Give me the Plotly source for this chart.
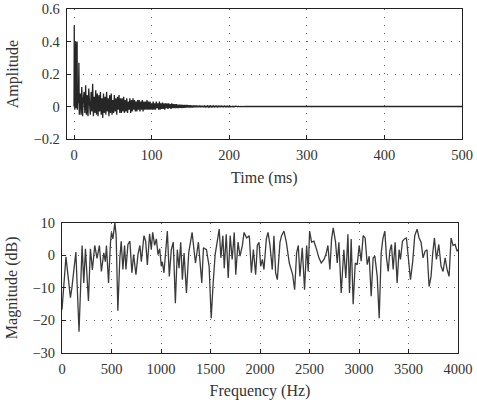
import numpy as np
import plotly.graph_objects as go
from plotly.subplots import make_subplots

# --- Top: impulse response ---
early_t = [0, 0.3, 0.6, 1.0, 1.3, 1.6, 2.2, 2.8, 3.4, 4.0, 4.3, 5.0, 5.6, 6.3, 6.8, 7.3]
early_a = [0.0, 0.5, 0.1, -0.02, 0.4, -0.01, 0.4, -0.01, 0.4, 0.4, -0.02, 0.06, 0.02, 0.27, -0.05, 0.04]

tail_start_ms = 8
tail_amp = [
    0.08, -0.05, 0.12, -0.06, 0.05, 0.09, -0.04, 0.13, -0.05, 0.07, -0.06, 0.11, 0.02, -0.05, 0.09, -0.03,
    0.14, -0.06, 0.06, -0.04, 0.10, -0.05, 0.08,
    -0.06, 0.07, -0.03, 0.09, -0.05, 0.05, -0.07, 0.08, -0.04, 0.06, -0.05, 0.09, -0.03, 0.05, -0.06, 0.07,
    -0.04, 0.08, -0.05, 0.04, -0.04, 0.07, -0.03, 0.05, -0.05, 0.06, -0.02, 0.07, -0.04, 0.05,
    -0.04, 0.05, -0.03, 0.06, -0.04, 0.04, -0.03, 0.05, -0.04, 0.03, -0.02, 0.05, -0.04, 0.04, -0.03, 0.05,
    -0.02, 0.04, -0.03, 0.03, -0.03, 0.04, -0.02, 0.04, -0.03, 0.03, -0.02, 0.04, -0.03, 0.03, -0.02, 0.03,
    -0.02, 0.04, -0.02, 0.03, -0.02, 0.03, -0.02, 0.02,
    -0.02, 0.03, -0.02, 0.02, -0.02, 0.03, -0.01, 0.02, -0.02, 0.03, -0.02, 0.02, -0.015, 0.025, -0.015, 0.02,
    -0.02, 0.02, -0.01, 0.02, -0.015, 0.02, -0.01, 0.015, -0.015, 0.02, -0.01, 0.015, -0.01, 0.015, -0.01, 0.015,
    -0.01, 0.012, -0.01, 0.012, -0.008, 0.012, -0.01, 0.01, -0.008, 0.01, -0.008, 0.01, -0.007, 0.01, -0.007, 0.008,
    -0.007, 0.008,
    -0.006, 0.007, -0.006, 0.006, -0.005, 0.007, -0.005, 0.006, -0.005, 0.005, -0.004, 0.006, -0.004, 0.005, -0.004, 0.005,
    -0.004, 0.004, -0.003, 0.005, -0.004, 0.004, -0.003, 0.004, -0.003, 0.004, -0.003, 0.003, -0.003, 0.004, -0.003, 0.003,
    -0.002, 0.003, -0.003, 0.003, -0.002, 0.003, -0.002, 0.003, -0.002, 0.002, -0.002, 0.003, -0.002, 0.002, -0.002, 0.002,
    -0.002, 0.002,
    -0.002, 0.002, -0.001, 0.002, -0.002, 0.002, -0.001, 0.002, -0.001, 0.001, -0.001, 0.002, -0.001, 0.001, -0.001, 0.001,
    -0.001, 0.001, -0.001, 0.001, 0.0,
]
end_t = [500]
end_a = [0.0]

# --- Bottom: magnitude response ---
freq_hz = [0, 40, 85, 100, 140, 172, 203, 220, 237, 267, 287, 307, 331, 354, 378, 398, 422, 438, 449, 470,
           490, 500, 514, 534, 547, 564, 584, 598, 615, 632, 646, 666, 686, 706, 723, 747, 767, 787, 801,
           828, 845, 862, 885, 902, 916, 936, 953, 970, 987, 1003, 1013, 1030, 1064, 1084, 1104, 1124,
           1145, 1165, 1182, 1199, 1216, 1233, 1257, 1280, 1314, 1348, 1378, 1412, 1429, 1459, 1486, 1507,
           1527, 1547, 1588, 1605, 1625, 1639, 1659, 1679, 1699, 1719, 1740, 1755, 1778, 1798, 1822, 1839,
           1865, 1892, 1913, 1933, 1956, 1973, 1990, 2007, 2024, 2040, 2064, 2081, 2101, 2124, 2141, 2158,
           2175, 2202, 2218, 2242, 2266, 2296, 2330, 2350, 2370, 2387, 2403, 2427, 2450, 2471, 2487, 2501,
           2521, 2545, 2572, 2595, 2619, 2646, 2666, 2686, 2706, 2723, 2740, 2763, 2780, 2797, 2820, 2847,
           2867, 2888, 2904, 2921, 2941, 2962, 2982, 3002, 3022, 3042, 3062, 3083, 3103, 3123, 3143, 3160,
           3184, 3204, 3224, 3241, 3261, 3278, 3295, 3311, 3328, 3345, 3365, 3385, 3405, 3419, 3439, 3459,
           3479, 3496, 3520, 3543, 3563, 3587, 3607, 3627, 3647, 3667, 3687, 3708, 3728, 3745, 3762, 3782,
           3806, 3829, 3849, 3870, 3890, 3910, 3930, 3950, 3971, 3991, 4000]
mag_db = [-16.7, -0.5, -13, -10, 1, -23.5, 3, -8.5, 2, -14, 2, -4.5, 3, -1, 3, -5, 0.7, -2, 3, -8.5,
          4, 7, 5, 10, 6, -17, -1, 4.3, -4.4, 3, -4.4, 3.3, 4.3, -5.4, 0.2, -6, 0.2, 3, -2,
          6, 4.3, -3, 6.6, 1.7, 7, 3, 5, 0.2, 2, -3.4, -2, -5.4, 7.4, -6.5, 1.7, 4,
          -14.7, 1.7, -4, 4, -7.5, 0.7, -11.6, 0.7, 7, -2.4, 4, -8.5, 2.3, 1.7, -3.4, -19.3,
          -8.5, 0.2, 8, -0.8, 6, -4, 6.4, -7, 6, -1.3, 7, -6, 4, -0.3, 3, 7, 5.3,
          6, -5.4, 1.7, -6, 3, 4, -3.4, -1.3, -4.4, 5, 7, 3, -4.4, 6, -5.4, -7.5,
          4, 6, 7.4, 4, -2.4, -6, -10.6, 0.7, 3, -6.5, 2.3, -10.6, 3, -5, 7.4, 4,
          4.3, 1.7, -0.8, -2.4, -1.3, 0.2, 3, -4.4, 5, 8.4, 4, -2.4, 4, -11.6, 1.7, -7,
          6.4, -11.6, 5, -15, -2.4, -2.9, 3, -1.8, 6, 5.3, -2.9, -0.3, -12.6, -0.8, -0.3, -6.5,
          -19.3, 0.7, 5, 7.4, -0.8, -5, 1.2, 3.3, -4.4, 4, -8.5, 1.7, -1.3, 4.3, 5, 5.3,
          0.7, -7.5, -1.8, 6, 8, 5.3, 4, -0.8, 1.2, 1.7, -9.6, -6.5, 0.7, 5.3, -1.3, 3.3,
          -3.4, -5, -0.8, -4.4, -6.5, 5.3, 3, 3.3, 1.2, 1.7, -2.4]

time_ms = early_t + list(tail_start_ms + np.arange(len(tail_amp))) + end_t
amplitude = early_a + tail_amp + end_a

fig = make_subplots(rows=2, cols=1)
fig.add_trace(go.Scatter(x=time_ms, y=amplitude, mode="lines",
                         line=dict(color="#262626", width=1.3), showlegend=False), row=1, col=1)
fig.add_trace(go.Scatter(x=freq_hz, y=mag_db, mode="lines",
                         line=dict(color="#3a3a3a", width=1.3), showlegend=False), row=2, col=1)

FONT = "Liberation Serif"
TF = dict(family=FONT, size=16, color="#333")
axis_common = dict(showline=True, mirror=True, linecolor="#222", linewidth=1,
                   ticks="inside", ticklen=4, tickcolor="#222",
                   showgrid=True, gridcolor="#666", griddash="1px,7px", gridwidth=1,
                   zeroline=False, tickfont=dict(family=FONT, size=14.5, color="#333"),
                   ticklabelstandoff=3, automargin=False)

fig.update_layout(
    width=477, height=400,
    margin=dict(l=62, r=15, t=9, b=47),
    paper_bgcolor="white", plot_bgcolor="white",
    font=dict(family=FONT, size=14.5, color="#333"),
    xaxis=dict(domain=[0.0118, 1.0], range=[-9.4, 500], tickvals=[0, 100, 200, 300, 400, 500],
               title=dict(text="Time (ms)", font=TF, standoff=9), **axis_common),
    yaxis=dict(domain=[0.622, 1.0], range=[-0.2, 0.6], tickvals=[-0.2, 0, 0.2, 0.4, 0.6],
               title=dict(text="Amplitude", font=TF, standoff=10), **axis_common),
    xaxis2=dict(domain=[0.0, 0.99], range=[0, 4000], tickvals=list(range(0, 4001, 500)),
                title=dict(text="Frequency (Hz)", font=TF, standoff=8), **axis_common),
    yaxis2=dict(domain=[0.0, 0.379], range=[-30, 10], tickvals=[-30, -20, -10, 0, 10],
                title=dict(text="Magnitude (dB)", font=TF, standoff=10), **axis_common),
)

fig.write_html("out.html")
